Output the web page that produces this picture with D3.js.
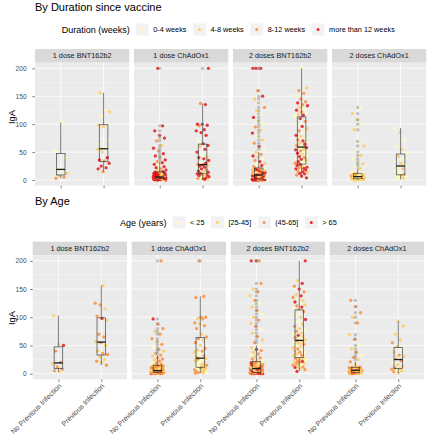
<!DOCTYPE html>
<html><head><meta charset="utf-8">
<script src="https://cdn.jsdelivr.net/npm/d3@7"></script>
<style>body{margin:0;background:#fff}svg{display:block;font-family:"Liberation Sans",Arial,sans-serif}</style>
</head><body><svg id="c" width="430" height="440"></svg>
<script>
// ---------- categories & labels ----------
const panelNames = ["1 dose BNT162b2","1 dose ChAdOx1","2 doses BNT162b2","2 doses ChAdOx1"];
const infectionNames = ["No Previous Infection","Previous Infection"];
const yTicks = [0,50,100,150,200];
const durationLabels = ["0-4 weeks","4-8 weeks","8-12 weeks","more than 12 weeks"];
const ageLabels = ["< 25","[25-45]","(45-65]","> 65"];
const palette = ["#FFFFB2","#FECC5C","#FD8D3C","#E31A1C"];

// ---------- data: IgA values, duration code, age code ----------
const bnt1NoPrevIgA = [3,5,8,12,18,20,40,50,52,103];
const bnt1NoPrevDur = [2,2,1,1,0,0,0,0,0,0];
const bnt1NoPrevAge = [1,2,2,2,1,2,2,3,1,1];

const bnt1PrevIgA = [15,20,22,25,30,34,36,40,50,55,57,65,70,95,98,102,115,122,125,156];
const bnt1PrevDur = [2,3,3,3,3,2,3,3,1,1,0,0,0,1,1,0,0,1,0,1];
const bnt1PrevAge = [2,1,2,1,1,2,2,1,1,2,1,2,2,1,3,2,1,2,2,1];

const chad1NoPrevIgA = [0,0,0.2,0.4,0.5,0.7,0.8,1,1,1.1,1.3,1.4,1.5,1.5,1.7,1.8,1.9,2,2,2,2.1,2.1,
  2.2,2.4,2.5,2.7,2.9,3,3.1,3.3,3.4,3.6,3.7,3.9,4,4.1,4.2,4.4,4.5,4.6,4.8,4.9,5,5,5.1,
  5.5,5.9,6.2,6.6,7,7.3,7.8,8.1,8.5,8.8,9.2,9.6,10,10.4,10.9,11.3,11.7,12.1,12.5,12.8,13.2,
  14,15,17,18,20,22,24,26,28,
  31,33,36,40,43,47,52,57,62,70,75,80,88,97,200];
const chad1NoPrevDur = [3,3,2,3,0,3,3,1,3,2,3,3,0,3,2,3,3,1,3,3,2,3,
  3,1,3,3,2,3,0,3,3,3,2,1,3,3,3,0,3,2,3,3,1,3,3,
  3,2,3,3,1,3,0,3,3,2,3,3,1,3,2,3,3,0,3,3,2,
  3,3,1,3,2,3,3,0,3,
  3,2,3,1,3,3,2,3,1,2,3,3,3,3,3];
const chad1NoPrevAge = [2,2,3,1,2,2,1,2,3,2,1,2,2,0,2,1,2,3,2,1,2,2,
  1,2,2,0,2,1,2,2,1,2,3,2,1,2,2,0,1,2,2,1,2,2,1,
  2,1,2,2,0,1,2,2,1,2,2,1,2,0,2,1,2,2,1,2,2,
  2,1,2,2,0,2,1,2,2,
  1,2,2,1,2,0,2,1,2,2,1,2,2,3,2];

const chad1PrevIgA = [1,2,2,3,3,4,5,6,7,8,9,10,11,12,12,14,15,16,18,20,22,23,25,26,27,28,30,32,35,38,
  40,42,45,50,55,60,62,65,70,80,85,88,90,97,98,100,100,135,137,200];
const chad1PrevDur = [3,0,1,3,2,3,0,3,1,3, 3,2,3,0,3,3,1,3,2,3, 0,3,3,1,3,2,3,0,3,3,
  3,1,0,3,3,1,3,3,0,3, 3,3,3,2,3,3,3,3,2,3];
const chad1PrevAge = [2,1,2,0,1,2,1,0,2,1, 0,1,2,0,1,0,2,1,0,1, 0,1,0,2,1,0,1,2,0,1,
  2,1,2,1,2,1,2,2,1,2, 2,1,2,2,1,2,2,2,2,2];

const bnt2NoPrevIgA = [0,0,0,0,0.1,0.2,0.2,0.3,0.4,0.4,0.5,0.6,0.6,0.7,0.8,0.8,0.9,1,1,1,1.1,1.1,1.2,1.2,1.3,1.3,1.4,1.4,1.5,1.5,1.5,1.6,1.6,
  1.8,2,2.1,2.3,2.5,2.6,2.9,3,3.2,3.5,3.7,3.9,4,4.3,4.6,4.8,5,5.3,5.5,5.8,6,6.2,6.5,6.8,7,7.2,7.5,7.8,8,8.3,8.6,8.9,
  9.1,9.4,9.8,10,10.3,10.7,11,11.4,11.8,12,12.3,12.7,13,13.4,13.8,14,14.4,14.8,15,15.4,15.8,16,16.4,16.8,17,17.4,17.8,18,18.5,19,19.5,20,
  22,24,26,28,30,33,35,38,41,43,46,
  50,55,60,66,72,78,84,89,95,100,106,112,118,124,130,138,145,150,160,200,200,200];
const bnt2NoPrevDur = [3,3,2,3,3,1,3,0,3,3, 2,3,3,3,1,3,2,3,0,3, 3,3,2,3,1,3,3,3,2,0,
  3,1,3,3,2,3,3,0,3,2, 3,3,1,3,2,3,0,3,3,2, 3,1,3,3,2,0,3,3,1,3, 2,3,3,0,3,1,3,2,3,3,
  0,3,2,1,3,3,2,0,3,1, 3,2,0,3,1,2,3,0,1,3, 2,0,3,1,2,3,0,1,2,3, 0,1,3,2,0,1,3,2,1,0,
  3,2,1,0,3,1,2,0,1,3, 0,1,2,0,1,3,2,3,3,3];
const bnt2NoPrevAge = [3,2,3,3,2,3,1,3,2,3, 3,2,3,1,3,2,3,3,0,2, 3,3,2,1,3,2,3,3,2,1,
  2,3,3,1,2,3,2,3,0,2, 3,2,1,3,2,2,3,1,2,3, 2,1,3,2,0,2,3,1,2,2, 3,2,1,2,3,0,2,1,2,3,
  1,2,2,0,3,1,2,2,1,3, 2,1,0,2,2,1,3,2,1,2, 0,2,1,2,3,1,2,0,1,2, 2,1,0,2,1,2,3,1,0,2,
  1,2,1,0,2,1,2,1,0,2, 1,0,2,1,2,1,2,3,3,2];

const bnt2PrevIgA = [4,7,9,11,12,14,15,16,18,19,20,21,22,23,25,26,27,28,
  30,32,33,35,37,38,40,42,44,46,48,50,52,54,55,57,58,
  60,62,64,66,68,70,72,75,78,80,84,88,92,96,100,105,110,
  114,116,118,120,122,125,127,130,133,135,138,140,145,150,155,160,165,200];
const bnt2PrevDur = [3,3,2,3,3,1,3,2,3,0,3,3,2,3,1,3,0,3,
  2,0,3,1,3,0,2,3,0,1,3,0,2,3,1,0,3,
  0,2,3,1,0,3,2,0,1,3,0,2,1,3,0,2,3,
  0,3,1,0,2,3,0,1,3,2,3,2,2,0,2,2,1,0];
const bnt2PrevAge = [3,2,1,3,2,1,2,0,2,1,2,1,3,2,0,1,2,1,
  0,1,2,1,0,2,1,0,2,1,1,0,2,1,0,1,2,
  1,0,2,1,3,0,1,2,0,1,2,1,0,3,1,0,2,
  1,0,3,2,1,0,3,1,0,2,3,1,2,3,2,3,1,3];

const chad2NoPrevIgA = [0,0,0.3,0.5,0.5,0.8,1,1,1.2,1.5,1.5,1.8,2,2,2,2,
  2.3,2.6,3,3,3.3,3.6,4,4,4.3,4.6,5,5,5.3,5.6,6,6,
  6.2,6.5,7,7,7.5,8,8,8.5,9,9,9.5,10,10,10.5,11,11,
  12,16,21,25,29,33,38,44,50,61,69,90,100,108,119,130];
const chad2NoPrevDur = [0,1,0,1,2,0,1,0,1,0,2,1,0,1,0,1,
  0,1,0,2,1,0,0,1,0,1,3,0,1,0,2,1,
  1,0,1,0,2,1,0,1,0,1,0,2,1,0,1,0,
  1,0,1,0,1,0,0,1,0,1,0,1,0,1,1,0];
const chad2NoPrevAge = [2,1,2,2,1,2,0,2,1,2,2,1,2,3,1,2,
  1,2,2,1,0,2,1,2,2,1,2,0,2,1,2,2,
  2,1,2,0,2,1,2,2,1,2,1,2,0,2,1,2,
  2,1,2,1,2,0,2,1,0,2,1,2,1,2,2,2];

const chad2PrevIgA = [1,3,5,6,8,9,10,13,16,20,23,27,30,33,38,42,48,55,60,70,85,93];
const chad2PrevDur = [0,1,0,0,1,0,1,0,0,1,0,0,1,0,0,1,0,1,0,0,1,0];
const chad2PrevAge = [1,2,1,0,2,1,2,1,1,0,2,1,1,2,1,0,1,2,1,1,1,1];

// table built from the arrays
const groups = [
  {panel:0, inf:0, v:bnt1NoPrevIgA, dur:bnt1NoPrevDur, age:bnt1NoPrevAge},
  {panel:0, inf:1, v:bnt1PrevIgA, dur:bnt1PrevDur, age:bnt1PrevAge},
  {panel:1, inf:0, v:chad1NoPrevIgA, dur:chad1NoPrevDur, age:chad1NoPrevAge},
  {panel:1, inf:1, v:chad1PrevIgA, dur:chad1PrevDur, age:chad1PrevAge},
  {panel:2, inf:0, v:bnt2NoPrevIgA, dur:bnt2NoPrevDur, age:bnt2NoPrevAge},
  {panel:2, inf:1, v:bnt2PrevIgA, dur:bnt2PrevDur, age:bnt2PrevAge},
  {panel:3, inf:0, v:chad2NoPrevIgA, dur:chad2NoPrevDur, age:chad2NoPrevAge},
  {panel:3, inf:1, v:chad2PrevIgA, dur:chad2PrevDur, age:chad2PrevAge}
];

// ---------- layout ----------
const sections = [
  {title:"By Duration since vaccine", titleY:10.6, legTitle:"Duration (weeks)", legLabels:durationLabels,
   legX:61.7, legY:29.5, stripTop:49, panelTop:62.7, panelBottom:185.6, left:35, key:"dur", xLabels:false, yTitleY:117, seed:0.13},
  {title:"By Age", titleY:204.5, legTitle:"Age (years)", legLabels:ageLabels,
   legX:120, legY:222.5, stripTop:241.7, panelTop:255.2, panelBottom:379.3, left:32.7, key:"age", xLabels:true, yTitleY:318, seed:0.57}
];
const panelW = 94.3, panelGap = 4.7;
const svg = d3.select("#c");
const gridCol = "#FFFFFF";
const ptR = 1.65;

function boxStats(vals){
  const s = vals.slice().sort(d3.ascending);
  const q1 = d3.quantileSorted(s,0.25), med = d3.quantileSorted(s,0.5), q3 = d3.quantileSorted(s,0.75);
  const iqr = q3-q1, lo = q1-1.5*iqr, hi = q3+1.5*iqr;
  const inside = s.filter(v=>v>=lo && v<=hi);
  return {q1, med, q3, wlo:d3.min(inside), whi:d3.max(inside), out:s.filter(v=>v<lo||v>hi)};
}

sections.forEach((sec, si)=>{
  svg.append("text").attr("x", 35).attr("y", sec.titleY).attr("font-size", 11).attr("fill","#000").text(sec.title);
  const lg = svg.append("g");
  const lt = lg.append("text").attr("x", sec.legX).attr("y", sec.legY).attr("dy","0.35em")
    .attr("font-size", 9).attr("fill","#000").text(sec.legTitle);
  let cx = sec.legX + lt.node().getComputedTextLength() + 6;
  sec.legLabels.forEach((lab,i)=>{
    lg.append("rect").attr("x",cx).attr("y",sec.legY-6).attr("width",13).attr("height",12).attr("fill","#F2F2F2");
    lg.append("circle").attr("cx",cx+6.5).attr("cy",sec.legY).attr("r",1.5).attr("fill",palette[i]).attr("opacity",0.9);
    const t = lg.append("text").attr("x",cx+17.5).attr("y",sec.legY).attr("dy","0.35em")
      .attr("font-size",7.3).attr("fill","#000").text(lab);
    cx += 17.5 + t.node().getComputedTextLength() + 6.5;
  });

  const y = d3.scaleLinear().domain([-10,210]).range([sec.panelBottom, sec.panelTop]);

  svg.append("text").attr("transform",`translate(12,${sec.yTitleY}) rotate(-90)`).attr("text-anchor","middle")
    .attr("dy","0.35em").attr("font-size",9.3).attr("fill","#000").text("IgA");

  panelNames.forEach((pn, pi)=>{
    const x0 = sec.left + pi*(panelW+panelGap);
    const x = d3.scaleLinear().domain([0.4,2.6]).range([x0, x0+panelW]);
    const g = svg.append("g");
    g.append("rect").attr("x",x0).attr("y",sec.stripTop).attr("width",panelW).attr("height",sec.panelTop-sec.stripTop).attr("fill","#D9D9D9");
    g.append("text").attr("x",x0+panelW/2).attr("y",(sec.stripTop+sec.panelTop)/2).attr("dy","0.35em")
      .attr("text-anchor","middle").attr("font-size",7.3).attr("fill","#1A1A1A").text(pn);
    g.append("rect").attr("x",x0).attr("y",sec.panelTop).attr("width",panelW).attr("height",sec.panelBottom-sec.panelTop).attr("fill","#EBEBEB");
    const minor = [25,75,125,175];
    g.selectAll(null).data(minor).enter().append("line").attr("x1",x0).attr("x2",x0+panelW)
      .attr("y1",d=>y(d)).attr("y2",d=>y(d)).attr("stroke",gridCol).attr("stroke-width",0.35);
    g.selectAll(null).data(yTicks).enter().append("line").attr("x1",x0).attr("x2",x0+panelW)
      .attr("y1",d=>y(d)).attr("y2",d=>y(d)).attr("stroke",gridCol).attr("stroke-width",0.75);
    g.selectAll(null).data([1,2]).enter().append("line").attr("y1",sec.panelTop).attr("y2",sec.panelBottom)
      .attr("x1",d=>x(d)).attr("x2",d=>x(d)).attr("stroke",gridCol).attr("stroke-width",0.75);

    const xa = g.append("g").attr("transform",`translate(0,${sec.panelBottom})`)
      .call(d3.axisBottom(x).tickValues([1,2]).tickSize(2.7).tickFormat(""));
    xa.select(".domain").remove();
    xa.selectAll("line").attr("stroke","#333").attr("stroke-width",0.6);
    if(sec.xLabels){
      infectionNames.forEach((nm,k)=>{
        g.append("text").attr("transform",`translate(${x(k+1)+3.6},${sec.panelBottom+7})rotate(-45)`)
          .attr("text-anchor","end").attr("font-size",7.2).attr("fill","#4D4D4D").text(nm);
      });
    }
    if(pi===0){
      const ya = g.append("g").attr("transform",`translate(${x0},0)`)
        .call(d3.axisLeft(y).tickValues(yTicks).tickSize(2.7).tickPadding(x0-2.7-26.7));
      ya.select(".domain").remove();
      ya.selectAll("line").attr("stroke","#333").attr("stroke-width",0.6);
      ya.selectAll("text").attr("font-size",6.7).attr("fill","#4D4D4D").attr("font-family","Liberation Sans, Arial, sans-serif");
    }

    groups.filter(gr=>gr.panel===pi).forEach((gr)=>{
      const xc = gr.inf+1;
      const codes = gr[sec.key];
      const seed = sec.seed + pi*0.21 + gr.inf*0.33;
      const pts = gr.v.map((v,i)=>({v, c:codes[i], dx:(((i*0.6180339887+seed)%1)-0.5)*0.3}));
      g.selectAll(null).data(pts).enter().append("circle")
        .attr("cx",d=>x(xc+d.dx)).attr("cy",d=>y(d.v)).attr("r",ptR)
        .attr("fill",d=>palette[d.c]).attr("opacity",0.85);
      const b = boxStats(gr.v);
      const bw = 0.1;
      g.append("line").attr("x1",x(xc)).attr("x2",x(xc)).attr("y1",y(b.q3)).attr("y2",y(b.whi))
        .attr("stroke","#666").attr("stroke-width",1).attr("opacity",0.85);
      g.append("line").attr("x1",x(xc)).attr("x2",x(xc)).attr("y1",y(b.q1)).attr("y2",y(b.wlo))
        .attr("stroke","#666").attr("stroke-width",1).attr("opacity",0.85);
      g.append("rect").attr("x",x(xc-bw)).attr("width",x(xc+bw)-x(xc-bw))
        .attr("y",y(b.q3)).attr("height",y(b.q1)-y(b.q3))
        .attr("fill","none").attr("stroke","#333").attr("stroke-width",0.75).attr("opacity",0.85);
      g.append("line").attr("x1",x(xc-bw)).attr("x2",x(xc+bw)).attr("y1",y(b.med)).attr("y2",y(b.med))
        .attr("stroke","#1a1a1a").attr("stroke-width",1.3);
      g.selectAll(null).data(b.out).enter().append("circle")
        .attr("cx",x(xc)).attr("cy",d=>y(d)).attr("r",ptR).attr("fill","#8C8C8C").attr("opacity",0.5);
    });
  });
});
</script></body></html>
